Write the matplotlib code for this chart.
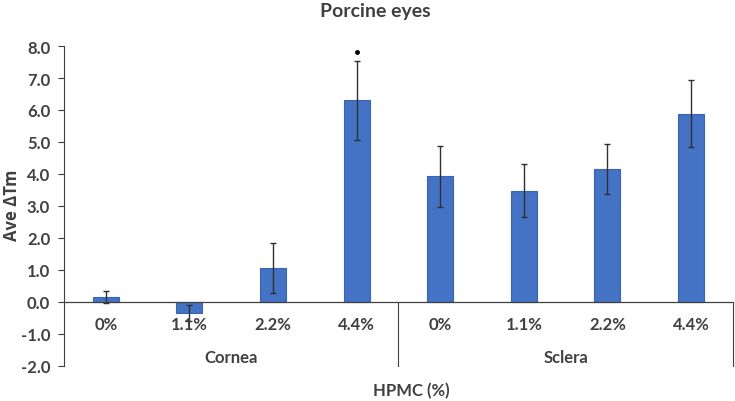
import numpy as np
import matplotlib
matplotlib.use("Agg")
import matplotlib.pyplot as plt

# data
groups = ["Cornea", "Sclera"]
conc = ["0%", "1.1%", "2.2%", "4.4%"]
cornea_vals = [0.15, -0.35, 1.05, 6.30]
cornea_err = [0.20, 0.25, 0.78, 1.24]
sclera_vals = [3.92, 3.47, 4.14, 5.88]
sclera_err = [0.95, 0.83, 0.78, 1.05]
sig_marks = [(3, 7.82)]  # dot above cornea 4.4%

plt.rcParams['font.family'] = ['Lato', 'DejaVu Sans']
txt = '#404040'

vals = cornea_vals + sclera_vals
errs = cornea_err + sclera_err
x = np.arange(len(vals))

fig = plt.figure(figsize=(7.35, 4.02), dpi=100)
ax = fig.add_axes([0.0871, 0.0878, 0.9099, 0.7952])

ax.bar(x, vals, width=0.31, color='#4472C4', edgecolor='#3A64B0', linewidth=0.8, zorder=2)
ax.errorbar(x, vals, yerr=errs, fmt='none', ecolor='#303030', elinewidth=1.0,
            capsize=2.5, capthick=1.0, zorder=3)
for xi, yi in sig_marks:
    ax.plot(xi, yi, 'o', color='black', markersize=2.5, zorder=3)

ax.set_xlim(-0.5, 7.5)
ax.set_ylim(-2, 8)
ax.set_yticks(np.arange(-2, 9, 1))
ax.set_yticklabels(['%.1f' % v for v in np.arange(-2, 9, 1)], fontsize=12,
                   fontweight='bold', color=txt)
ax.tick_params(axis='y', direction='out', length=4, width=0.8, color='#404040', pad=6)
ax.set_xticks([])
for s in ['top', 'right', 'bottom']:
    ax.spines[s].set_visible(False)
ax.spines['left'].set_color('#404040')
ax.spines['left'].set_linewidth(0.8)

# zero line and group separators
ax.axhline(0, color='#404040', linewidth=0.9, zorder=4)
for xs in [3.5, 7.5]:
    ax.plot([xs, xs], [0, -2], color='#404040', linewidth=0.8, clip_on=False)

labels = conc + conc
for xi, lab in zip(x, labels):
    ax.text(xi, -0.7, lab, ha='center', va='center', fontsize=12,
            fontweight='bold', color=txt)
for gi, g in enumerate(groups):
    ax.text(gi * 4 + 1.5, -1.72, g, ha='center', va='center', fontsize=12,
            fontweight='bold', color=txt)

fig.text(0.51, 0.972, "Porcine eyes", ha='center', va='center', fontsize=14,
         fontweight='bold', color=txt)
fig.text(0.559, 0.027, "HPMC (%)", ha='center', va='center', fontsize=12,
         fontweight='bold', color=txt)
fig.text(0.016, 0.49, "Ave ΔTm", ha='center', va='center', rotation=90,
         fontsize=12, fontweight='bold', color=txt, family=['Open Sans', 'DejaVu Sans'])

fig.savefig("out.png", dpi=100)
